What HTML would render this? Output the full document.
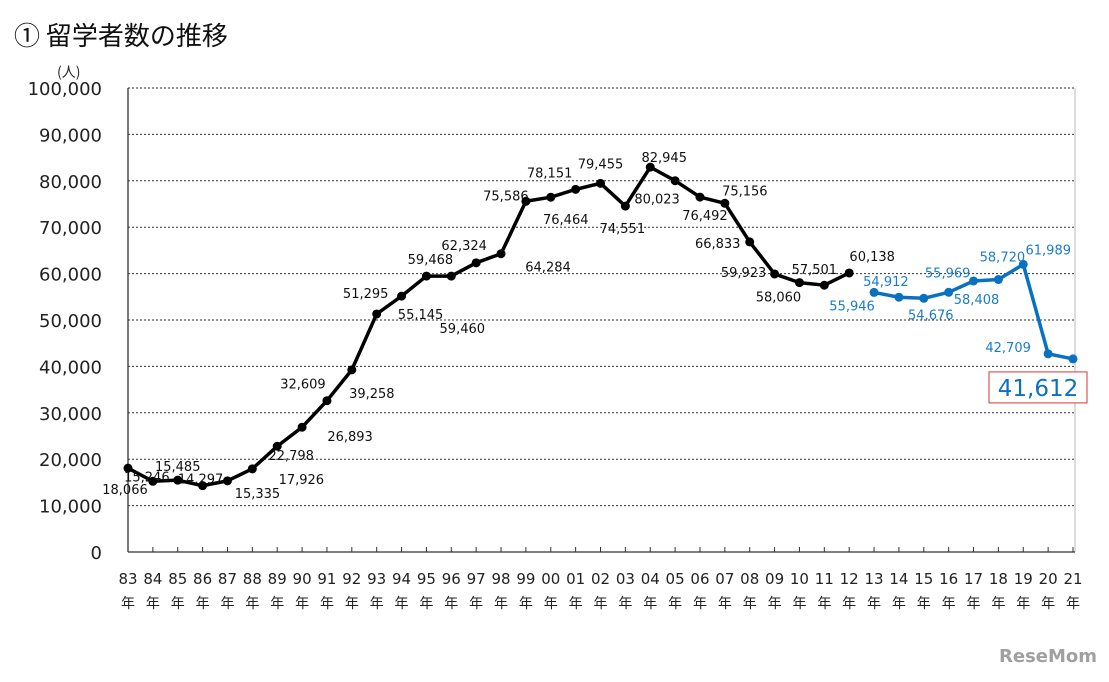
<!DOCTYPE html>
<html><head><meta charset="utf-8">
<style>
body{margin:0;background:#fff;width:1109px;height:678px;overflow:hidden;font-family:"DejaVu Sans","Noto Sans CJK JP",sans-serif;}
</style></head>
<body>
<svg id="chart" width="1109" height="678" xmlns="http://www.w3.org/2000/svg" font-family="DejaVu Sans, Noto Sans CJK JP, sans-serif">
<text x="14" y="45" font-size="26" font-weight="400" fill="#111" font-family="Noto Sans CJK JP, sans-serif">① 留学者数の推移</text>
<text x="57" y="77" font-size="14" fill="#222" font-family="Noto Sans CJK JP, sans-serif">(人)</text>
<g id="grid"></g><g id="axes"></g><g id="series"></g><g id="labels"></g>
<text x="999" y="662" font-size="18" font-weight="bold" fill="#a0a0a0">ReseMom</text>
</svg>
<script>
const years=["83","84","85","86","87","88","89","90","91","92","93","94","95","96","97","98","99","00","01","02","03","04","05","06","07","08","09","10","11","12","13","14","15","16","17","18","19","20","21"];
const oldSeries=[18066,15246,15485,14297,15335,17926,22798,26893,32609,39258,51295,55145,59468,59460,62324,64284,75586,76464,78151,79455,74551,82945,80023,76492,75156,66833,59923,58060,57501,60138];
const newSeries=[55946,54912,54676,55969,58408,58720,61989,42709,41612];
const yTicks=[0,10000,20000,30000,40000,50000,60000,70000,80000,90000,100000];
const offs=[[-3,21],[-6,-5],[0,-14],[-2,-7],[30,12],[49,10],[14,9],[48,9],[-24,-17],[20,23],[-11,-21],[19,18],[4,-17],[11,52],[-12,-18],[47,13],[-20,-6],[15,22],[-26,-17],[0,-20],[-3,22],[14,-10],[-18,18],[5,18],[20,-13],[-32,1],[-31,-2],[-21,14],[-10,-16],[23,-17],[-22,13],[-13,-16],[7,16],[-1,-20],[3,18],[4,-23],[25,-15],[-40,-7],[-36,28]];
const NS="http://www.w3.org/2000/svg";
const x0=128,x1=1073,yb=552,yt=88;
const X=i=>x0+(x1-x0)*i/(years.length-1);
const Y=v=>yb-(yb-yt)*v/100000;
function mk(tag,at,par){const e=document.createElementNS(NS,tag);for(const k in at)e.setAttribute(k,at[k]);document.getElementById(par).appendChild(e);return e;}
const fmt=v=>v.toLocaleString('en-US');
yTicks.forEach(v=>{
  if(v>0){const g=mk('line',{x1:x0,x2:1075,y1:Y(v),y2:Y(v),stroke:'#333','stroke-width':1,'stroke-dasharray':'2,2'},'grid');
  
  }
  const t=mk('text',{x:102,y:Y(v)+7,'font-size':18,'text-anchor':'end',fill:'#222'},'axes');t.textContent=fmt(v);
  
  
});
const rb=mk('line',{x1:1075,x2:1075,y1:yt,y2:yb,stroke:'#bbb'},'axes');


const ya=mk('line',{x1:x0,x2:x0,y1:yt,y2:yb,stroke:'#333','stroke-width':1.3},'axes');


const xa=mk('line',{x1:x0,x2:1075,y1:yb,y2:yb,stroke:'#333','stroke-width':1.3},'axes');


years.forEach((y,i)=>{
  if(i>0){const tk=mk('line',{x1:X(i),x2:X(i),y1:yb-5,y2:yb,stroke:'#333'},'axes');
  
  }
  const t=mk('text',{x:X(i),y:584,'font-size':15,'text-anchor':'middle',fill:'#222'},'axes');t.textContent=y;
  
  
  const t2=mk('text',{x:X(i),y:608,'font-size':14,'text-anchor':'middle',fill:'#222'},'axes');t2.textContent='年';
  
  
});
function drawSeries(vals,start,col,name){
  const pts=vals.map((v,k)=>X(start+k)+','+Y(v)).join(' ');
  const pl=mk('polyline',{points:pts,fill:'none',stroke:col,'stroke-width':3.5,'stroke-linejoin':'round'},'series');
  
  
  vals.forEach((v,k)=>{
    const i=start+k;
    const c=mk('circle',{cx:X(i),cy:Y(v),r:4.5,fill:col},'series');
    
    
    const o=offs[i]||[0,-14];
    if(i===years.length-1){
      const bx=X(i)+o[0],by=Y(v)+o[1];
      const r=mk('rect',{x:bx-48,y:by-15,width:98,height:31,fill:'#fff',stroke:'#d33','stroke-width':1},'labels');
      
      
      const t=mk('text',{x:bx+1,y:by+9,'font-size':23,'text-anchor':'middle',fill:col},'labels');t.textContent=fmt(v);
      
      
    }else{
      const t=mk('text',{x:X(i)+o[0],y:Y(v)+o[1]+5,'font-size':13,'text-anchor':'middle',fill:col==='#000'?'#111':'#1a7cc9'},'labels');t.textContent=fmt(v);
      
      
    }
  });
}
drawSeries(oldSeries,0,'#000','old-series');
drawSeries(newSeries,oldSeries.length,'#0a70c0','new-series');
</script>
</body></html>
